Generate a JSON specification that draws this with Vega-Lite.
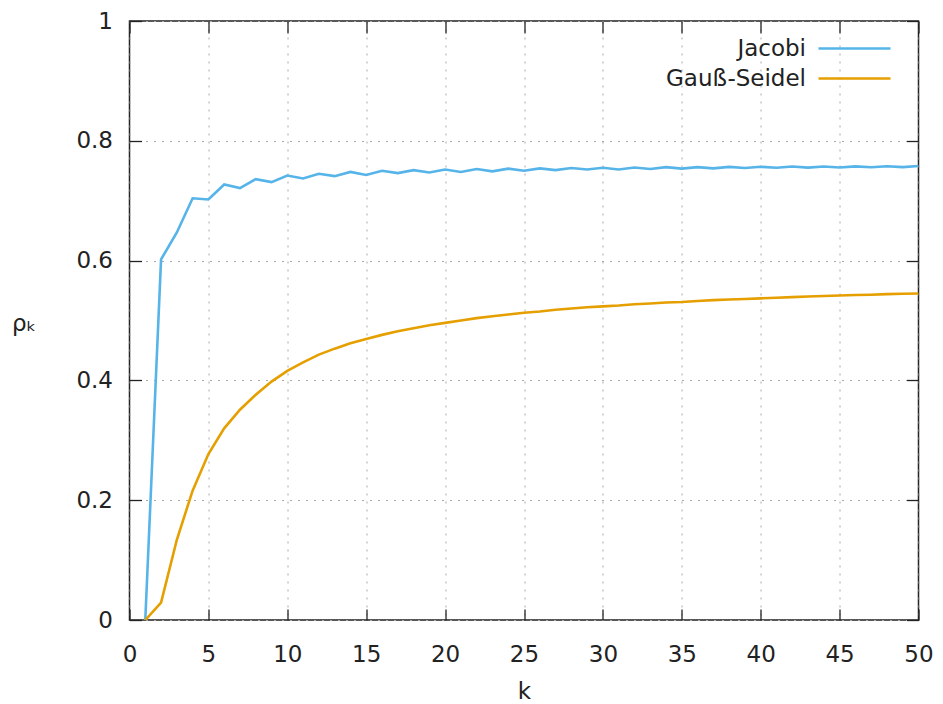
{
  "$schema": "https://vega.github.io/schema/vega-lite/v6.json",
  "autosize": "none",
  "width": 789,
  "height": 599,
  "padding": {"left": 129.5, "top": 21, "right": 24.5, "bottom": 84},
  "background": "white",
  "config": {
    "view": {"stroke": "#222", "strokeWidth": 1.5},
    "font": "DejaVu Sans",
    "axis": {
      "domain": false,
      "tickColor": "#222",
      "tickWidth": 1.3,
      "labelFont": "DejaVu Sans",
      "labelFontSize": 23,
      "labelColor": "#222",
      "titleFont": "DejaVu Sans",
      "titleFontSize": 23,
      "titleFontWeight": "normal",
      "titleColor": "#222",
      "gridColor": "#a8a8a8",
      "gridDash": [2, 6],
      "gridWidth": 1
    },
    "legend": {
      "labelFont": "DejaVu Sans",
      "labelFontSize": 23,
      "labelColor": "#222"
    }
  },
  "data": {
    "values": [
      {"k": 1, "rho": 0.0, "method": "Jacobi"},
      {"k": 2, "rho": 0.602, "method": "Jacobi"},
      {"k": 3, "rho": 0.647, "method": "Jacobi"},
      {"k": 4, "rho": 0.704, "method": "Jacobi"},
      {"k": 5, "rho": 0.702, "method": "Jacobi"},
      {"k": 6, "rho": 0.727, "method": "Jacobi"},
      {"k": 7, "rho": 0.721, "method": "Jacobi"},
      {"k": 8, "rho": 0.736, "method": "Jacobi"},
      {"k": 9, "rho": 0.731, "method": "Jacobi"},
      {"k": 10, "rho": 0.742, "method": "Jacobi"},
      {"k": 11, "rho": 0.737, "method": "Jacobi"},
      {"k": 12, "rho": 0.745, "method": "Jacobi"},
      {"k": 13, "rho": 0.741, "method": "Jacobi"},
      {"k": 14, "rho": 0.748, "method": "Jacobi"},
      {"k": 15, "rho": 0.743, "method": "Jacobi"},
      {"k": 16, "rho": 0.75, "method": "Jacobi"},
      {"k": 17, "rho": 0.746, "method": "Jacobi"},
      {"k": 18, "rho": 0.751, "method": "Jacobi"},
      {"k": 19, "rho": 0.747, "method": "Jacobi"},
      {"k": 20, "rho": 0.752, "method": "Jacobi"},
      {"k": 21, "rho": 0.748, "method": "Jacobi"},
      {"k": 22, "rho": 0.753, "method": "Jacobi"},
      {"k": 23, "rho": 0.749, "method": "Jacobi"},
      {"k": 24, "rho": 0.7535, "method": "Jacobi"},
      {"k": 25, "rho": 0.75, "method": "Jacobi"},
      {"k": 26, "rho": 0.754, "method": "Jacobi"},
      {"k": 27, "rho": 0.751, "method": "Jacobi"},
      {"k": 28, "rho": 0.7545, "method": "Jacobi"},
      {"k": 29, "rho": 0.752, "method": "Jacobi"},
      {"k": 30, "rho": 0.755, "method": "Jacobi"},
      {"k": 31, "rho": 0.752, "method": "Jacobi"},
      {"k": 32, "rho": 0.7555, "method": "Jacobi"},
      {"k": 33, "rho": 0.753, "method": "Jacobi"},
      {"k": 34, "rho": 0.756, "method": "Jacobi"},
      {"k": 35, "rho": 0.7535, "method": "Jacobi"},
      {"k": 36, "rho": 0.756, "method": "Jacobi"},
      {"k": 37, "rho": 0.754, "method": "Jacobi"},
      {"k": 38, "rho": 0.7565, "method": "Jacobi"},
      {"k": 39, "rho": 0.7545, "method": "Jacobi"},
      {"k": 40, "rho": 0.7566, "method": "Jacobi"},
      {"k": 41, "rho": 0.755, "method": "Jacobi"},
      {"k": 42, "rho": 0.757, "method": "Jacobi"},
      {"k": 43, "rho": 0.7552, "method": "Jacobi"},
      {"k": 44, "rho": 0.7571, "method": "Jacobi"},
      {"k": 45, "rho": 0.7555, "method": "Jacobi"},
      {"k": 46, "rho": 0.7573, "method": "Jacobi"},
      {"k": 47, "rho": 0.7558, "method": "Jacobi"},
      {"k": 48, "rho": 0.7575, "method": "Jacobi"},
      {"k": 49, "rho": 0.756, "method": "Jacobi"},
      {"k": 50, "rho": 0.7578, "method": "Jacobi"},
      {"k": 1, "rho": 0.0, "method": "Gauß-Seidel"},
      {"k": 2, "rho": 0.029, "method": "Gauß-Seidel"},
      {"k": 3, "rho": 0.134, "method": "Gauß-Seidel"},
      {"k": 4, "rho": 0.216, "method": "Gauß-Seidel"},
      {"k": 5, "rho": 0.277, "method": "Gauß-Seidel"},
      {"k": 6, "rho": 0.32, "method": "Gauß-Seidel"},
      {"k": 7, "rho": 0.351, "method": "Gauß-Seidel"},
      {"k": 8, "rho": 0.376, "method": "Gauß-Seidel"},
      {"k": 9, "rho": 0.398, "method": "Gauß-Seidel"},
      {"k": 10, "rho": 0.416, "method": "Gauß-Seidel"},
      {"k": 11, "rho": 0.43, "method": "Gauß-Seidel"},
      {"k": 12, "rho": 0.443, "method": "Gauß-Seidel"},
      {"k": 13, "rho": 0.453, "method": "Gauß-Seidel"},
      {"k": 14, "rho": 0.462, "method": "Gauß-Seidel"},
      {"k": 15, "rho": 0.469, "method": "Gauß-Seidel"},
      {"k": 16, "rho": 0.476, "method": "Gauß-Seidel"},
      {"k": 17, "rho": 0.482, "method": "Gauß-Seidel"},
      {"k": 18, "rho": 0.487, "method": "Gauß-Seidel"},
      {"k": 19, "rho": 0.492, "method": "Gauß-Seidel"},
      {"k": 20, "rho": 0.496, "method": "Gauß-Seidel"},
      {"k": 21, "rho": 0.5, "method": "Gauß-Seidel"},
      {"k": 22, "rho": 0.504, "method": "Gauß-Seidel"},
      {"k": 23, "rho": 0.507, "method": "Gauß-Seidel"},
      {"k": 24, "rho": 0.51, "method": "Gauß-Seidel"},
      {"k": 25, "rho": 0.513, "method": "Gauß-Seidel"},
      {"k": 26, "rho": 0.515, "method": "Gauß-Seidel"},
      {"k": 27, "rho": 0.518, "method": "Gauß-Seidel"},
      {"k": 28, "rho": 0.52, "method": "Gauß-Seidel"},
      {"k": 29, "rho": 0.522, "method": "Gauß-Seidel"},
      {"k": 30, "rho": 0.5236, "method": "Gauß-Seidel"},
      {"k": 31, "rho": 0.525, "method": "Gauß-Seidel"},
      {"k": 32, "rho": 0.527, "method": "Gauß-Seidel"},
      {"k": 33, "rho": 0.5285, "method": "Gauß-Seidel"},
      {"k": 34, "rho": 0.53, "method": "Gauß-Seidel"},
      {"k": 35, "rho": 0.531, "method": "Gauß-Seidel"},
      {"k": 36, "rho": 0.5326, "method": "Gauß-Seidel"},
      {"k": 37, "rho": 0.534, "method": "Gauß-Seidel"},
      {"k": 38, "rho": 0.535, "method": "Gauß-Seidel"},
      {"k": 39, "rho": 0.536, "method": "Gauß-Seidel"},
      {"k": 40, "rho": 0.537, "method": "Gauß-Seidel"},
      {"k": 41, "rho": 0.538, "method": "Gauß-Seidel"},
      {"k": 42, "rho": 0.539, "method": "Gauß-Seidel"},
      {"k": 43, "rho": 0.54, "method": "Gauß-Seidel"},
      {"k": 44, "rho": 0.541, "method": "Gauß-Seidel"},
      {"k": 45, "rho": 0.5417, "method": "Gauß-Seidel"},
      {"k": 46, "rho": 0.5425, "method": "Gauß-Seidel"},
      {"k": 47, "rho": 0.543, "method": "Gauß-Seidel"},
      {"k": 48, "rho": 0.544, "method": "Gauß-Seidel"},
      {"k": 49, "rho": 0.5447, "method": "Gauß-Seidel"},
      {"k": 50, "rho": 0.545, "method": "Gauß-Seidel"}
    ]
  },
  "layer": [
    {
      "mark": {"type": "line", "strokeWidth": 2.6, "clip": true},
      "encoding": {
        "x": {
          "field": "k", "type": "quantitative",
          "scale": {"domain": [0, 50], "nice": false, "zero": false},
          "axis": {
            "orient": "bottom", "title": "k", "values": [0, 5, 10, 15, 20, 25, 30, 35, 40, 45, 50],
            "grid": true, "tickSize": -11, "labelPadding": 34, "labelFlush": false,
            "titleBaseline": "alphabetic", "titleY": 78, "titleAnchor": "middle"
          }
        },
        "y": {
          "field": "rho", "type": "quantitative",
          "scale": {"domain": [0, 1], "nice": false},
          "axis": {
            "orient": "left", "title": "ρₖ", "values": [0, 0.2, 0.4, 0.6, 0.8, 1], "format": "~g",
            "grid": true, "tickSize": -12, "labelPadding": 29, "labelFlush": false,
            "titleAngle": 0, "titleAlign": "left", "titleBaseline": "middle",
            "titleX": -118, "titleY": 302
          }
        },
        "color": {
          "field": "method", "type": "nominal",
          "scale": {"domain": ["Jacobi", "Gauß-Seidel"], "range": ["#56b4e9", "#e69f00"]},
          "legend": {
            "title": null, "orient": "none", "legendX": 711.5, "legendY": 14,
            "symbolType": "M-3,0H3", "symbolSize": 576, "symbolStrokeWidth": 2.6,
            "labelAlign": "right", "labelOffset": -62, "rowPadding": 4, "padding": 0
          }
        }
      }
    },
    {
      "mark": {"type": "line", "strokeOpacity": 0},
      "encoding": {
        "x": {
          "field": "k", "type": "quantitative",
          "axis": {"orient": "top", "title": null, "labels": false, "grid": false, "tickSize": -12, "values": [0, 5, 10, 15, 20, 25, 30, 35, 40, 45, 50]}
        },
        "y": {
          "field": "rho", "type": "quantitative",
          "axis": {"orient": "right", "title": null, "labels": false, "grid": false, "tickSize": -12, "values": [0, 0.2, 0.4, 0.6, 0.8, 1]}
        }
      }
    }
  ],
  "resolve": {"axis": {"x": "independent", "y": "independent"}}
}
